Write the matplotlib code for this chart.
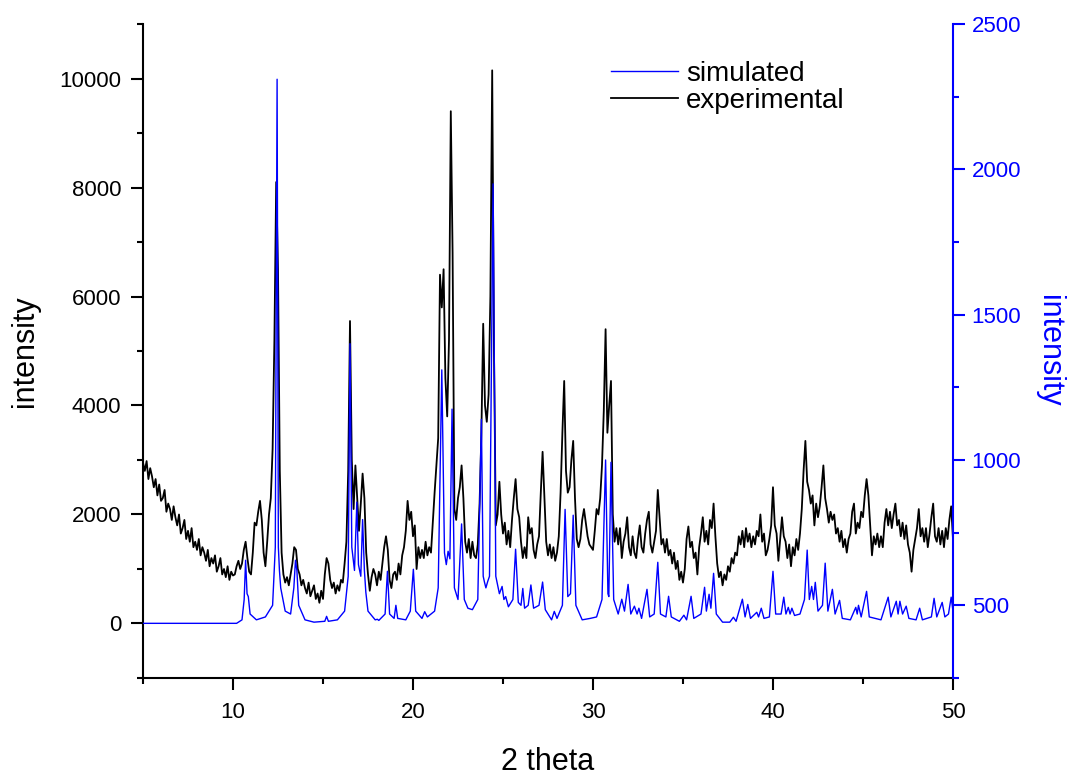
"""Powder XRD: experimental pattern (left axis) vs simulated pattern (right axis)."""

import numpy as np
import matplotlib
matplotlib.use("Agg")
import matplotlib.pyplot as plt
from matplotlib.ticker import MultipleLocator

plt.rcParams["font.family"] = ["Liberation Sans", "DejaVu Sans"]

# --------------------------------------------------------------------------- #
# data
# --------------------------------------------------------------------------- #
# experimental counts, 2theta = 5.0 .. 50.0 in 0.1 deg steps
exp_start, exp_step = 5.0, 0.1
exp_counts = [
    2950, 2800, 2980, 2650, 2850, 2700, 2500, 2650, 2350, 2550,   # 5.0
    2250, 2300, 2450, 2050, 2200, 2100, 1900, 2150, 1950, 1800,   # 6.0
    2000, 1650, 1750, 1900, 1550, 1700, 1500, 1750, 1400, 1500,   # 7.0
    1350, 1550, 1250, 1400, 1300, 1150, 1350, 1050, 1200, 1100,   # 8.0
    1250, 950, 1050, 1200, 900, 1000, 850, 1050, 800, 950,        # 9.0
    880, 900, 1050, 1150, 1000, 1100, 1350, 1500, 1200, 950,      # 10.0
    900, 1300, 1850, 1800, 2050, 2250, 1900, 1300, 1050, 1500,    # 11.0
    2000, 2300, 3200, 5200, 8100, 6500, 2800, 1300, 900, 750,     # 12.0
    850, 700, 900, 1100, 1400, 1350, 1000, 900, 700, 800,         # 13.0
    650, 550, 750, 500, 600, 700, 450, 550, 380, 600,             # 14.0
    450, 900, 1200, 1100, 800, 650, 750, 550, 700, 600,           # 15.0
    800, 750, 1100, 1500, 2800, 5550, 3000, 2100, 2900, 2300,     # 16.0
    1700, 2200, 2750, 2300, 1300, 900, 600, 850, 1000, 900,       # 17.0
    700, 950, 800, 1100, 1400, 1600, 1350, 800, 650, 900,         # 18.0
    950, 800, 1100, 900, 1250, 1400, 1700, 2250, 1900, 2050,      # 19.0
    1600, 1800, 1000, 1400, 1200, 1350, 1200, 1500, 1250, 1400,   # 20.0
    1300, 1850, 2400, 2900, 3400, 6400, 5800, 6500, 4500, 3800,   # 21.0
    5200, 9400, 6800, 2100, 1900, 2300, 2500, 2900, 2300, 1500,   # 22.0
    1300, 1550, 1200, 1500, 1250, 1200, 1450, 2200, 3500, 5500,   # 23.0
    4000, 3700, 4200, 6000, 10150, 5000, 1800, 2000, 2600, 2000,  # 24.0
    1650, 1850, 1450, 1700, 1400, 1900, 2300, 2650, 2100, 1950,   # 25.0
    1500, 1200, 1400, 1200, 1950, 1650, 1750, 1350, 1200, 1450,   # 26.0
    1600, 2400, 3150, 2300, 1500, 1250, 1450, 1200, 1400, 1150,   # 27.0
    1300, 1600, 2400, 3500, 4450, 2800, 2400, 2500, 3000, 3350,   # 28.0
    2300, 1550, 1400, 1550, 1900, 2100, 1850, 1600, 1450, 1400,   # 29.0
    1350, 1700, 2100, 2000, 2300, 2900, 3900, 5400, 3500, 4000,   # 30.0
    4450, 2000, 1500, 1750, 1450, 1750, 1200, 1500, 1650, 1950,   # 31.0
    1400, 1250, 1600, 1300, 1200, 1550, 1800, 1400, 1300, 1650,   # 32.0
    1900, 2050, 1450, 1300, 1500, 1700, 2450, 1950, 1450, 1550,   # 33.0
    1300, 1550, 1250, 1350, 1100, 1300, 1000, 1150, 800, 950,     # 34.0
    750, 1000, 1550, 1780, 1400, 1500, 1200, 1300, 900, 1400,     # 35.0
    1650, 1950, 1500, 1700, 1450, 1900, 1750, 2200, 1600, 1100,   # 36.0
    850, 950, 700, 900, 800, 1050, 950, 1200, 1100, 1300,         # 37.0
    1250, 1600, 1450, 1700, 1400, 1750, 1500, 1650, 1400, 1600,   # 38.0
    1450, 1700, 1600, 2000, 1500, 1650, 1250, 1350, 1550, 1800,   # 39.0
    2500, 1800, 1650, 1150, 1550, 1950, 1600, 1500, 1200, 1450,   # 40.0
    1050, 1400, 1250, 1550, 1350, 1650, 2100, 2800, 3350, 2600,   # 41.0
    2450, 2200, 2350, 1800, 2200, 1950, 2150, 2500, 2900, 2300,   # 42.0
    2100, 1850, 2050, 1900, 2000, 1650, 1750, 1500, 1700, 1400,   # 43.0
    1550, 1300, 1550, 1650, 2050, 2200, 1650, 1850, 1750, 2050,   # 44.0
    1950, 2350, 2650, 2350, 1800, 1250, 1600, 1450, 1650, 1400,   # 45.0
    1600, 1400, 1850, 2100, 1800, 2050, 1750, 2000, 2200, 1800,   # 46.0
    1900, 1600, 1850, 1550, 1800, 1450, 1300, 950, 1350, 1550,    # 47.0
    1750, 2100, 1600, 1750, 1500, 1750, 1400, 1650, 1950, 2200,   # 48.0
    1600, 1500, 1750, 1450, 1700, 1400, 1750, 1550, 1900, 2150,   # 49.0
    1550,                                                         # 50.0
]

# simulated pattern, vertices (2theta, intensity)
sim_theta = [
    5.0, 10.2, 10.5, 10.62, 10.7, 10.78, 10.85, 10.95, 11.3, 11.8,
    12.2, 12.35, 12.45, 12.52, 12.58, 12.65, 12.9, 13.2, 13.38, 13.47,
    13.55, 13.65, 14.0, 14.5, 15.1, 15.2, 15.3, 15.8, 16.2, 16.4,
    16.5, 16.6, 16.75, 16.88, 16.97, 17.1, 17.2, 17.3, 17.38, 17.5,
    17.9, 18.02, 18.1, 18.45, 18.58, 18.7, 18.95, 19.05, 19.15, 19.6,
    19.85, 20.02, 20.15, 20.5, 20.65, 20.8, 21.2, 21.4, 21.6, 21.75,
    21.85, 21.95, 22.05, 22.17, 22.3, 22.5, 22.7, 22.85, 23.05, 23.3,
    23.6, 23.8, 23.9, 23.97, 24.05, 24.15, 24.25, 24.45, 24.6, 24.8,
    24.95, 25.05, 25.15, 25.3, 25.55, 25.7, 25.85, 26.0, 26.1, 26.2,
    26.4, 26.55, 26.7, 27.0, 27.2, 27.35, 27.7, 27.85, 28.0, 28.3,
    28.45, 28.6, 28.75, 28.9, 29.05, 29.4, 29.85, 30.2, 30.5, 30.7,
    30.83, 30.88, 31.0, 31.15, 31.4, 31.6, 31.75, 31.95, 32.1, 32.3,
    32.45, 32.55, 32.7, 33.0, 33.15, 33.4, 33.6, 33.75, 34.05, 34.2,
    34.35, 34.8, 35.05, 35.2, 35.45, 35.6, 36.0, 36.2, 36.3, 36.45,
    36.55, 36.7, 36.85, 37.2, 37.6, 37.8, 37.95, 38.3, 38.45, 38.6,
    38.75, 39.1, 39.2, 39.35, 39.5, 39.8, 40.0, 40.15, 40.45, 40.6,
    40.72, 40.85, 40.95, 41.05, 41.2, 41.5, 41.75, 41.9, 42.02, 42.15,
    42.25, 42.35, 42.5, 42.75, 42.9, 43.05, 43.3, 43.45, 43.7, 43.85,
    44.3, 44.6, 44.68, 44.75, 44.9, 45.2, 45.35, 46.0, 46.4, 46.55,
    46.85, 46.95, 47.05, 47.2, 47.4, 47.55, 47.95, 48.15, 48.3, 48.8,
    48.95, 49.1, 49.4, 49.55, 49.75, 49.9, 50.0,
]
sim_counts = [
    438, 438, 450, 520, 655, 540, 530, 470, 450, 460,
    500, 700, 2310, 700, 620, 560, 480, 470, 560, 655,
    620, 500, 450, 442, 445, 462, 445, 450, 480, 600,
    1400, 700, 620, 855, 640, 600, 795, 620, 545, 480,
    450, 452, 448, 470, 617, 470, 455, 500, 455, 450,
    480, 624, 480, 455, 478, 460, 480, 560, 1310, 680,
    640, 686, 660, 1175, 560, 520, 780, 520, 490, 485,
    520, 1140, 600, 580, 560, 582, 600, 1950, 600, 540,
    565, 520, 530, 495, 520, 693, 510, 500, 558, 490,
    500, 570, 490, 500, 580, 485, 450, 479, 455, 500,
    830, 530, 540, 810, 500, 450, 455, 460, 520, 1000,
    540, 530, 992, 520, 470, 521, 480, 572, 470, 497,
    470, 490, 455, 555, 460, 470, 648, 470, 460, 531,
    460, 445, 466, 450, 531, 455, 470, 562, 480, 538,
    490, 610, 470, 442, 442, 459, 445, 521, 460, 503,
    455, 476, 460, 490, 455, 460, 617, 470, 470, 528,
    470, 493, 470, 490, 465, 470, 520, 690, 520, 565,
    520, 579, 480, 500, 645, 480, 555, 470, 517, 455,
    450, 493, 470, 500, 460, 548, 460, 450, 528, 460,
    514, 470, 514, 470, 497, 455, 450, 490, 450, 460,
    524, 460, 510, 460, 470, 528, 480,
]

exp_theta = exp_start + exp_step * np.arange(len(exp_counts))

# --------------------------------------------------------------------------- #
# figure
# --------------------------------------------------------------------------- #
fig = plt.figure(figsize=(10.68, 7.75), dpi=100)
ax = fig.add_axes([0.1339, 0.1252, 0.7584, 0.8438])
ax2 = ax.twinx()

l_exp, = ax.plot(exp_theta, exp_counts, color="black", lw=1.3, label="experimental")
l_sim, = ax2.plot(sim_theta, sim_counts, color="blue", lw=1.0, label="simulated")

ax.set_xlim(5, 50)
ax.set_ylim(-1000, 11000)
ax2.set_ylim(250, 2500)

ax.xaxis.set_major_locator(MultipleLocator(10))
ax.xaxis.set_minor_locator(MultipleLocator(5))
ax.yaxis.set_major_locator(MultipleLocator(2000))
ax.yaxis.set_minor_locator(MultipleLocator(1000))
ax2.yaxis.set_major_locator(MultipleLocator(500))
ax2.yaxis.set_minor_locator(MultipleLocator(250))

for a in (ax, ax2):
    a.spines["top"].set_visible(False)
    for s in a.spines.values():
        s.set_linewidth(1.5)
ax.spines["right"].set_visible(False)
ax2.spines["left"].set_visible(False)
ax2.spines["bottom"].set_visible(False)
ax2.spines["right"].set_color("blue")

ax.tick_params(which="major", direction="out", length=8.5, width=1.5, labelsize=16, pad=7)
ax.tick_params(which="minor", direction="out", length=4.5, width=1.5)
ax.tick_params(axis="x", which="major", pad=9)
ax2.tick_params(which="major", direction="out", length=8.5, width=1.5, labelsize=16, pad=5,
                color="blue", labelcolor="blue")
ax2.tick_params(which="minor", direction="out", length=4.5, width=1.5, color="blue")

ax.set_xlabel("2 theta", fontsize=22, va="center")
ax.xaxis.set_label_coords(0.5, -0.128)
ax.set_ylabel("intensity", fontsize=22, va="center")
ax.yaxis.set_label_coords(-0.146, 0.5)
ax2.set_ylabel("intensity", fontsize=22, color="blue", rotation=270, va="center")
ax2.yaxis.set_label_coords(1.118, 0.5)

ax2.legend(handles=[l_sim, l_exp], loc="upper left", bbox_to_anchor=(0.578, 0.944),
           frameon=False, fontsize=20, handlelength=2.4, handletextpad=0.3,
           labelspacing=0.05, borderpad=0, borderaxespad=0)

fig.savefig("out.png", dpi=100)
